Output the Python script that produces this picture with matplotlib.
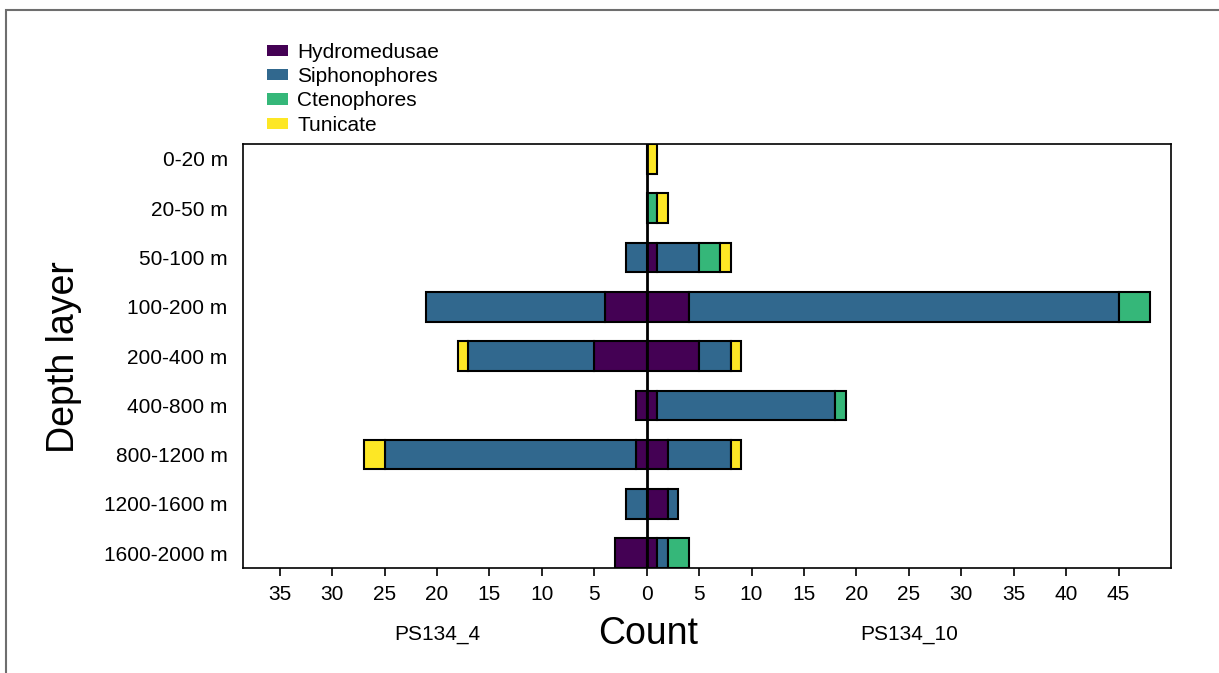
import numpy as np
import matplotlib
matplotlib.use("Agg")
from matplotlib import pyplot as plt
from matplotlib.patches import Patch, Rectangle

plt.rcParams['font.family'] = ['Liberation Sans', 'DejaVu Sans']

depths = ['0-20 m', '20-50 m', '50-100 m', '100-200 m', '200-400 m',
          '400-800 m', '800-1200 m', '1200-1600 m', '1600-2000 m']
groups = ['Hydromedusae', 'Siphonophores', 'Ctenophores', 'Tunicate']
colours = ['#440154', '#31688e', '#35b779', '#fde725']

# PS134_4 (drawn to the left)
ps4_hydro = [0, 0, 0, 4, 5, 1, 1, 0, 3]
ps4_siph = [0, 0, 2, 17, 12, 0, 24, 2, 0]
ps4_cteno = [0, 0, 0, 0, 0, 0, 0, 0, 0]
ps4_tunic = [0, 0, 0, 0, 1, 0, 2, 0, 0]

# PS134_10 (drawn to the right)
ps10_hydro = [0, 0, 1, 4, 5, 1, 2, 2, 1]
ps10_siph = [0, 0, 4, 41, 3, 17, 6, 1, 1]
ps10_cteno = [0, 1, 2, 3, 0, 1, 0, 0, 2]
ps10_tunic = [1, 1, 1, 0, 1, 0, 1, 0, 0]

ps4 = [ps4_hydro, ps4_siph, ps4_cteno, ps4_tunic]
ps10 = [ps10_hydro, ps10_siph, ps10_cteno, ps10_tunic]

fig = plt.figure(figsize=(12.19, 6.73), dpi=100)
ax = fig.add_axes([0.1993, 0.156, 0.7613, 0.63])

y = np.arange(len(depths))
h = 0.6
left = np.zeros(len(depths))
right = np.zeros(len(depths))
for i in range(4):
    v4 = np.array(ps4[i], dtype=float)
    v10 = np.array(ps10[i], dtype=float)
    m4 = v4 > 0
    m10 = v10 > 0
    ax.barh(y[m4], -v4[m4], left=-left[m4], height=h, color=colours[i],
            edgecolor='black', linewidth=1.5)
    ax.barh(y[m10], v10[m10], left=right[m10], height=h, color=colours[i],
            edgecolor='black', linewidth=1.5)
    left += v4
    right += v10

ax.axvline(0, color='black', linewidth=2, zorder=5)

ax.set_xlim(-38.5, 50)
ax.set_ylim(len(depths) - 1 + 0.3, -0.3)
xt = np.arange(-35, 50, 5)
ax.set_xticks(xt)
ax.set_xticklabels([str(abs(t)) for t in xt], fontsize=15)
ax.set_yticks(y)
ax.set_yticklabels(depths, fontsize=15)
ax.tick_params(axis='y', length=0, pad=11)
ax.tick_params(axis='x', length=6, width=1.2, pad=6)
for s in ax.spines.values():
    s.set_linewidth(1.2)

fig.text(64 / 1219, 1 - 357 / 673, 'Depth layer', rotation=90, fontsize=27,
         ha='center', va='center')
fig.text(648 / 1219, 1 - 634 / 673, 'Count', fontsize=27, ha='center', va='center')
fig.text(437 / 1219, 1 - 634 / 673, 'PS134_4', fontsize=15, ha='center', va='center')
fig.text(909 / 1219, 1 - 634 / 673, 'PS134_10', fontsize=15, ha='center', va='center')

handles = [Patch(facecolor=c, edgecolor='none') for c in colours]
fig.legend(handles, groups, loc='upper left', bbox_to_anchor=(267 / 1219, 1 - 43 / 673),
           frameon=False, fontsize=15, handlelength=1.0, handleheight=0.45,
           labelspacing=0.25, handletextpad=0.45, borderaxespad=0, borderpad=0)

fig.patches.append(Rectangle((6 / 1219, -0.1), 2, 1.1 - 10 / 673, transform=fig.transFigure,
                             fill=False, edgecolor='#6e6e6e', linewidth=1.5))

fig.savefig('out.png', dpi=100)
